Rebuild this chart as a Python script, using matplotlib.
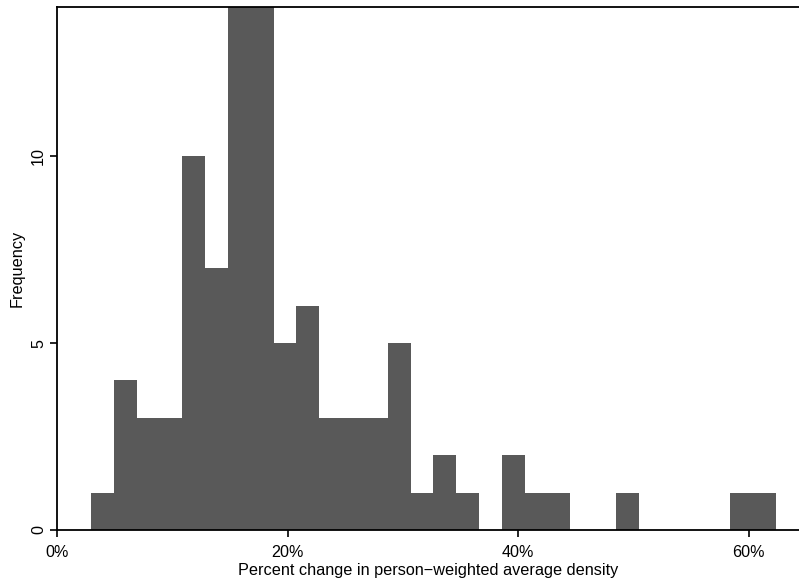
import numpy as np
import matplotlib.pyplot as plt
from matplotlib.ticker import PercentFormatter

# histogram counts, 30 equal-width bins
counts = [1, 4, 3, 3, 10, 7, 14, 14, 5, 6,
          3, 3, 3, 5, 1, 2, 1, 0, 2, 1,
          1, 0, 0, 1, 0, 0, 0, 0, 1, 1]
bin_start = 0.0295
bin_width = 0.0198
x_ticks = [0.0, 0.2, 0.4, 0.6]
y_ticks = [0, 5, 10]

plt.rcParams['font.family'] = ['Liberation Sans', 'DejaVu Sans']

edges = bin_start + bin_width * np.arange(len(counts) + 1)

fig = plt.figure(figsize=(7.99, 5.84), dpi=100)
ax = fig.add_axes([57 / 799, 54 / 584, 1 - 57 / 799, (530 - 6.7) / 584])

ax.bar(edges[:-1], counts, width=bin_width, align='edge',
       color='#595959', linewidth=0)

ax.set_xlim(0, 0.6435)
ax.set_ylim(0, 14)
ax.set_xticks(x_ticks)
ax.set_yticks(y_ticks)
ax.xaxis.set_major_formatter(PercentFormatter(1.0, decimals=0))

for side in ['left', 'bottom', 'top']:
    ax.spines[side].set_linewidth(1.3)
    ax.spines[side].set_color('black')
ax.spines['right'].set_visible(False)

ax.tick_params(axis='both', direction='out', length=5, width=1.2,
               labelsize=11.6, colors='black')
ax.tick_params(axis='x', pad=5.5)
ax.tick_params(axis='y', pad=2.8)
for lab in ax.get_yticklabels():
    lab.set_rotation(90)
    lab.set_va('center')

ax.set_xlabel('Percent change in person\u2212weighted average density',
              fontsize=11.7, labelpad=2.5)
ax.set_ylabel('Frequency', fontsize=11.7, labelpad=4.5)

fig.savefig('out.png', dpi=100)
